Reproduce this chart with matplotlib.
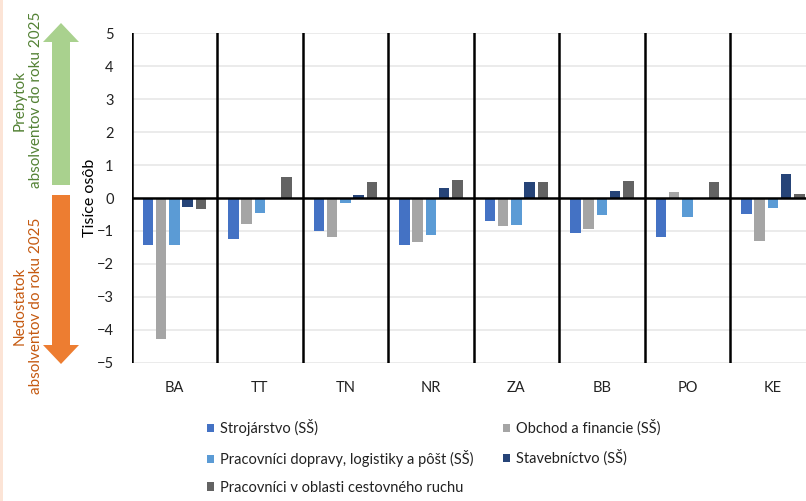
import numpy as np
import matplotlib
matplotlib.use("Agg")
import matplotlib.pyplot as plt
from matplotlib.patches import Patch, Polygon, Rectangle

plt.rcParams['font.family'] = ['Lato', 'DejaVu Sans']

# --- data (thousands of persons) ---
regions = ['BA', 'TT', 'TN', 'NR', 'ZA', 'BB', 'PO', 'KE']
strojarstvo = [-1.43, -1.24, -1.00, -1.43, -0.70, -1.07, -1.17, -0.49]
obchod = [-4.27, -0.78, -1.17, -1.35, -0.84, -0.94, 0.18, -1.32]
doprava = [-1.43, -0.46, -0.16, -1.13, -0.81, -0.52, -0.57, -0.30]
stavebnictvo = [-0.27, 0.0, 0.10, 0.31, 0.48, 0.21, 0.0, 0.74]
cestovny = [-0.33, 0.64, 0.48, 0.56, 0.48, 0.53, 0.50, 0.13]

series_names = ['Strojárstvo (SŠ)', 'Obchod a financie (SŠ)',
                'Pracovníci dopravy, logistiky a pôšt (SŠ)', 'Stavebníctvo (SŠ)',
                'Pracovníci v oblasti cestovného ruchu']
series_colors = ['#4472C4', '#A5A5A5', '#5B9BD5', '#264478', '#636363']
series = [strojarstvo, obchod, doprava, stavebnictvo, cestovny]

W, H = 806, 501
fig = plt.figure(figsize=(W / 100, H / 100), dpi=100)

# main axes, extends a bit past the right edge like the original crop
ax_left, ax_top, ax_bot, cat_w = 131.7, 33.3, 362.7, 85.5
ax_w = len(regions) * cat_w
ax = fig.add_axes([ax_left / W, 1 - ax_bot / H, ax_w / W, (ax_bot - ax_top) / H])

x = np.arange(len(regions))
pitch, bw = 0.155, 0.123
for i, (vals, col) in enumerate(zip(series, series_colors)):
    ax.bar(x + (i - 2) * pitch, vals, width=bw, color=col, linewidth=0, zorder=3)

ax.set_xlim(-0.5, len(regions) - 0.5)
ax.set_ylim(-5, 5)
ax.set_yticks(range(-5, 6))
for yv in range(-5, 6):
    if yv != 0:
        ax.axhline(yv, color='#E8E8E8', lw=1.2, zorder=1)
ax.axhline(0, color='black', lw=1.8, zorder=4)
for k in range(len(regions)):
    ax.axvline(k - 0.5, color='black', lw=1.8, zorder=4)

for s in ax.spines.values():
    s.set_visible(False)
ax.set_xticks(x)
ax.set_xticklabels(regions)
ax.tick_params(axis='x', length=0, pad=13, labelsize=10.5, colors='#222222')
ax.tick_params(axis='y', length=0, pad=13, labelsize=10.5, colors='#222222')
ax.set_ylabel('Tisíce osôb', fontsize=11.5, color='black')
ax.yaxis.set_label_coords(-(ax_left - 97) / ax_w, 0.5)

# legend, row-wise order
handles = [Patch(facecolor=c, edgecolor='none') for c in series_colors]
order = [0, 2, 4, 1, 3]
fig.legend([handles[i] for i in order], [series_names[i] for i in order],
           ncol=2, loc='upper left', bbox_to_anchor=(207 / W, 1 - 419 / H),
           frameon=False, fontsize=10.5, handlelength=0.5, handleheight=0.5,
           handletextpad=0.4, columnspacing=2.0, labelspacing=0.95,
           borderpad=0, borderaxespad=0, labelcolor='#222222')

# overlay in pixel coords for arrows and side labels
ov = fig.add_axes([0, 0, 1, 1], zorder=-1)
ov.set_xlim(0, W)
ov.set_ylim(H, 0)
ov.axis('off')
ov.add_patch(Rectangle((0, 0), 3, H, color='#FCE4D6', lw=0))
green_arrow = [(52, 185), (52, 42), (43, 42), (61, 23), (79, 42), (70, 42), (70, 185)]
orange_arrow = [(52, 195), (52, 345), (43, 345), (61, 364), (79, 345), (70, 345), (70, 195)]
ov.add_patch(Polygon(green_arrow, closed=True, color='#A9D18E', lw=0))
ov.add_patch(Polygon(orange_arrow, closed=True, color='#ED7D31', lw=0))
ov.text(28, 100, 'Prebytok\nabsolventov do roku 2025', rotation=90, ha='center', va='center',
        multialignment='center', fontsize=11, color='#548235', linespacing=1.25)
ov.text(28, 306, 'Nedostatok\nabsolventov do roku 2025', rotation=90, ha='center', va='center',
        multialignment='center', fontsize=11, color='#C55A11', linespacing=1.25)

fig.savefig('out.png', dpi=100)
